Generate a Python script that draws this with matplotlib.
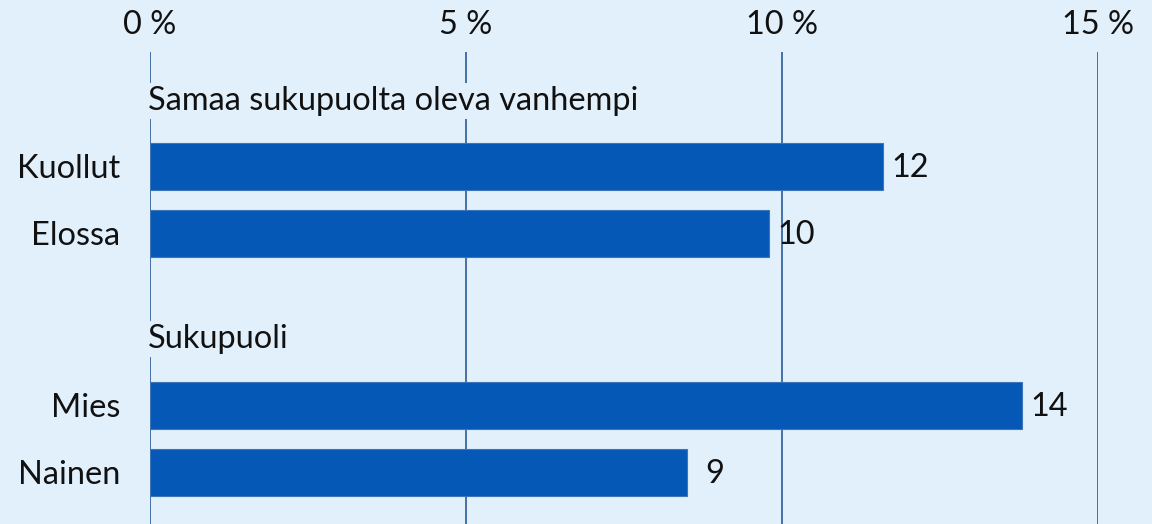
import matplotlib
matplotlib.use("Agg")
import matplotlib.pyplot as plt

# Data
groups = ["Samaa sukupuolta oleva vanhempi", "Sukupuoli"]
categories = [["Kuollut", "Elossa"], ["Mies", "Nainen"]]
values = [[11.6, 9.8], [13.8, 8.5]]
value_labels = [["12", "10"], ["14", "9"]]
xticks = [0, 5, 10, 15]
xtick_labels = ["0 %", "5 %", "10 %", "15 %"]

BG = "#E2F0FB"
BAR = "#0558B6"
GRID = "#2A5A98"
FONT = "Lato"
FS = 23.4

W, H = 1152, 524
fig = plt.figure(figsize=(W / 100, H / 100), dpi=100, facecolor=BG)
left_px, right_px, top_px, bottom_px = 150, 1098, 52, 524
ax = fig.add_axes([left_px / W, 1 - bottom_px / H,
                   (right_px - left_px) / W, (bottom_px - top_px) / H])
ax.set_facecolor(BG)

# layout positions (in row units)
header_pos = [-0.98, 2.58]
bar_pos = [[0.0, 1.0], [3.57, 4.57]]

for g, name in enumerate(groups):
    ax.text(-0.03, header_pos[g], name, ha="left", va="center",
            fontsize=FS, family=FONT, color="#111111", zorder=4,
            bbox=dict(boxstyle="square,pad=0.1", facecolor=BG, edgecolor="none"))
    for cat, v, lab, y in zip(categories[g], values[g], value_labels[g], bar_pos[g]):
        ax.barh(y, v, height=0.69, color=BAR, edgecolor="#3E74B8",
                linewidth=0.8, zorder=3)
        ax.annotate(lab, xy=(v, y), xytext=(27, -2), textcoords="offset pixels",
                    ha="center", va="center", fontsize=FS, family=FONT,
                    color="#111111", zorder=5)

ytick_pos = [p for grp in bar_pos for p in grp]
ytick_lab = [c for grp in categories for c in grp]
ax.set_yticks(ytick_pos)
ax.set_yticklabels(ytick_lab, fontsize=FS, family=FONT, color="#111111")
ax.set_xlim(0, 15)
ax.set_ylim(5.34, -1.71)
ax.set_xticks(xticks)
ax.set_xticklabels(xtick_labels, fontsize=FS, family=FONT, color="#111111")
ax.xaxis.tick_top()
ax.tick_params(axis="x", length=0, pad=8.5)
ax.tick_params(axis="y", length=0, pad=21.6)
ax.grid(axis="x", color=GRID, linewidth=1.2, zorder=0)
ax.set_axisbelow(True)
for sp in ax.spines.values():
    sp.set_visible(False)

fig.savefig("out.png", dpi=100, facecolor=BG)
